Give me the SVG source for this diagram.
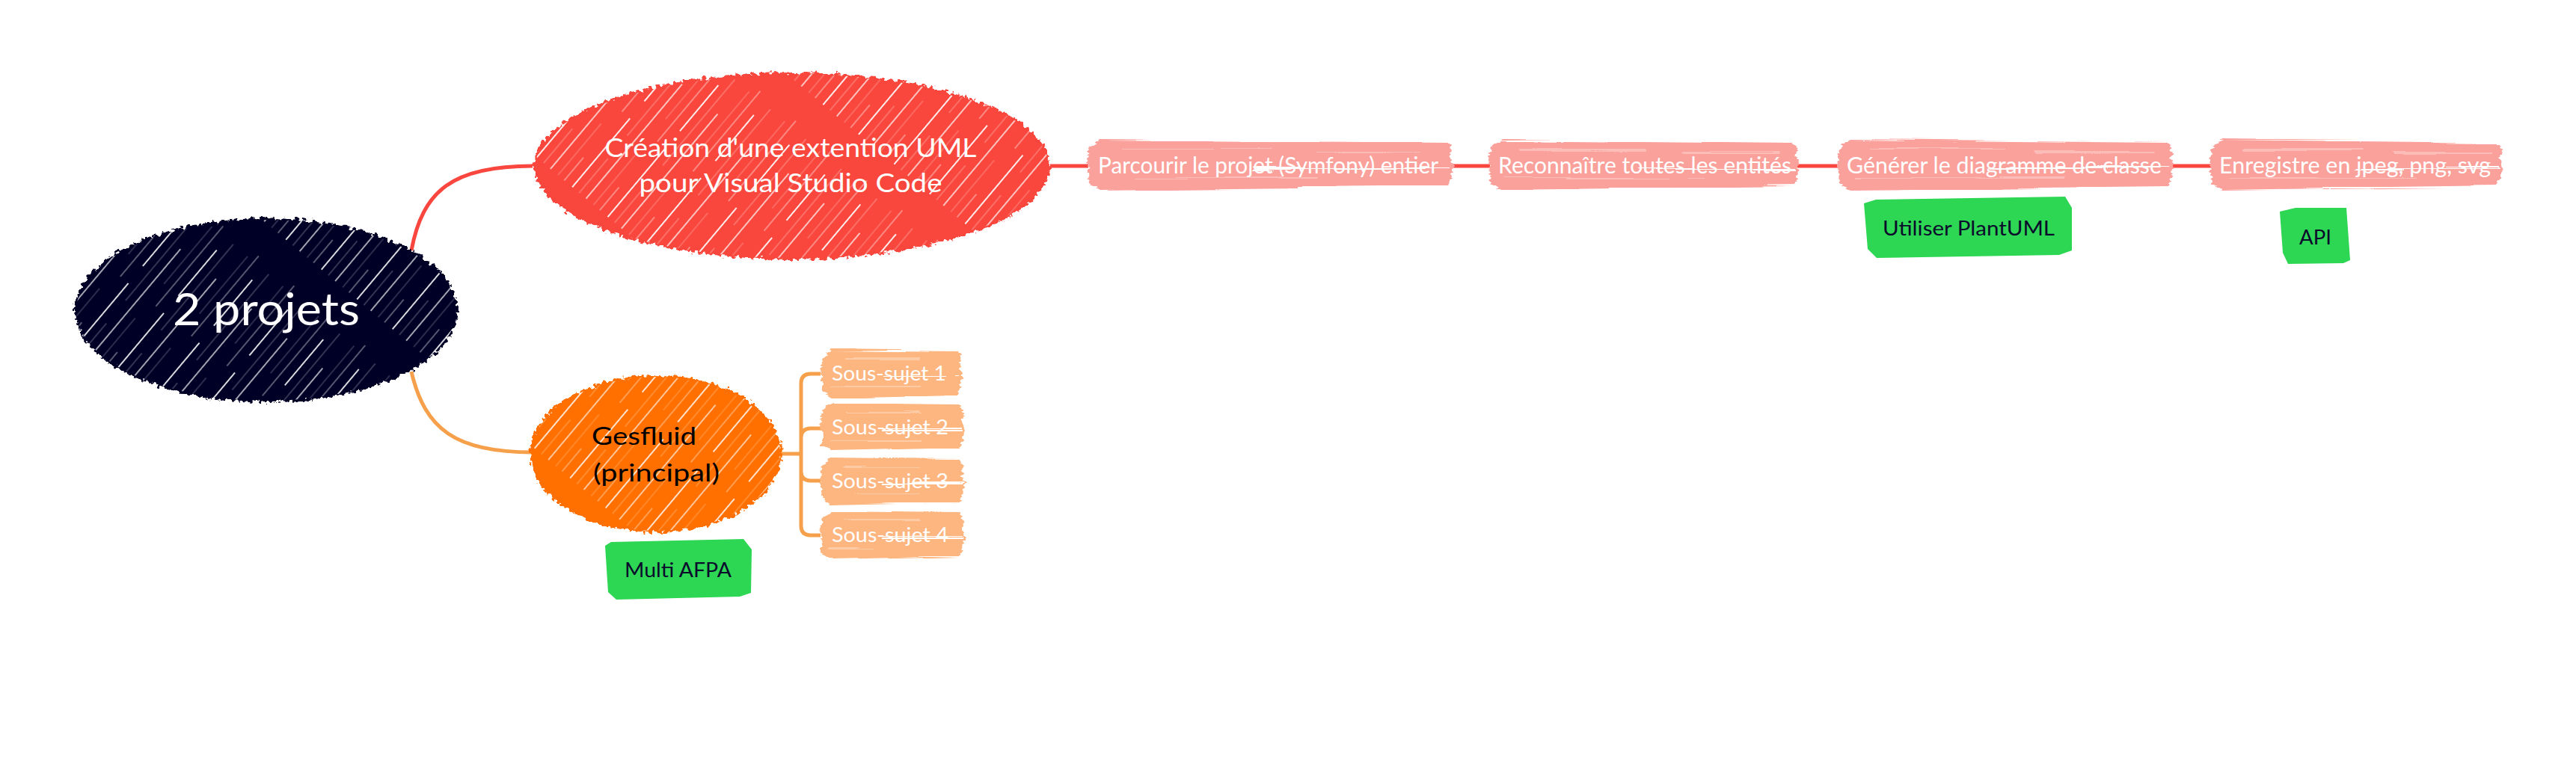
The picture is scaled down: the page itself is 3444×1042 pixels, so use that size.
<svg xmlns="http://www.w3.org/2000/svg" width="3444" height="1042" viewBox="0 0 3444 1042">
<defs>
<style>
.t{font-family:Lato,"Open Sans","Liberation Sans",sans-serif}
.w{fill:#ffffff}
.d{fill:#0b0b2c}
.k{fill:#000000}
.red{fill:#f9463e}
.navy{fill:#020228}
.orange{fill:#ff6f00}
.lred{fill:#fba19b}
.lor{fill:#fdb680}
.green{fill:#2dd653}
.cr{fill:none;stroke:#f9463e;stroke-width:5}
.co{fill:none;stroke:#f6a04c;stroke-width:5}
.tex{stroke:#ffffff;fill:none}
.h{stroke:#ffffff;fill:none}
</style>
<pattern id="hatch" patternUnits="userSpaceOnUse" width="300" height="62" patternTransform="rotate(-50)">
<line class="h" x1="0" y1="3" x2="300" y2="3" stroke-width="2.2" stroke-dasharray="120 30 80 70"/>
<line class="h" x1="0" y1="15" x2="300" y2="15" stroke-width=".8" opacity=".6" stroke-dasharray="60 40 150 50"/>
<line class="h" x1="0" y1="27" x2="300" y2="27" stroke-width="1.6" stroke-dasharray="200 100"/>
<line class="h" x1="0" y1="40" x2="300" y2="40" stroke-width=".8" opacity=".5" stroke-dasharray="90 60 100 50"/>
<line class="h" x1="0" y1="51" x2="300" y2="51" stroke-width="1.2" opacity=".8" stroke-dasharray="40 80 140 40"/>
</pattern>
<clipPath id="cRoot"><ellipse cx="356" cy="415" rx="254" ry="121"/></clipPath>
<clipPath id="cUml"><ellipse cx="1059" cy="222" rx="343" ry="123"/></clipPath>
<clipPath id="cGes"><ellipse cx="877" cy="607" rx="166" ry="103"/></clipPath>
<filter id="rough" x="-10%" y="-10%" width="120%" height="120%">
<feTurbulence type="fractalNoise" baseFrequency="0.18" numOctaves="2" seed="3" result="n"/>
<feDisplacementMap in="SourceGraphic" in2="n" scale="12" xChannelSelector="R" yChannelSelector="G"/>
</filter>
<filter id="brush" x="-5%" y="-20%" width="110%" height="140%">
<feTurbulence type="fractalNoise" baseFrequency="0.004 0.25" numOctaves="2" seed="7" result="n"/>
<feDisplacementMap in="SourceGraphic" in2="n" scale="10" xChannelSelector="R" yChannelSelector="G"/>
</filter>
</defs>
<rect width="3444" height="1042" fill="#ffffff"/>

<g id="connectors">
<path class="cr" d="M550 335 C565 255 605 222 712 222"/>
<path class="co" d="M550 497 C568 575 610 605 712 605"/>
<path class="cr" d="M1404 222 H1455 M1941 222 H1992 M2403 222 H2458 M2904 222 H2956"/>
<path class="co" d="M1045 607 H1071 M1097 500 H1084 Q1071 500 1071 513 V703 Q1071 716 1084 716 H1097 M1097 573 H1084 Q1071 573 1071 586 M1097 643 H1084 Q1071 643 1071 630"/>
</g>

<g id="root">
<ellipse class="navy" cx="356" cy="415" rx="256" ry="123" filter="url(#rough)"/>
<rect x="90" y="280" width="540" height="270" fill="url(#hatch)" clip-path="url(#cRoot)" opacity=".85"/>
<text class="t w" x="356" y="435" font-size="60" text-anchor="middle" textLength="250" lengthAdjust="spacingAndGlyphs">2 projets</text>
</g>

<g id="uml">
<ellipse class="red" cx="1059" cy="222" rx="345" ry="125" filter="url(#rough)"/>
<rect x="700" y="90" width="720" height="270" fill="url(#hatch)" clip-path="url(#cUml)" opacity=".9"/>
<text class="t w" x="1057" y="210" font-size="35" text-anchor="middle" textLength="497" lengthAdjust="spacingAndGlyphs">Création d'une extention UML</text>
<text class="t w" x="1057" y="257" font-size="35" text-anchor="middle" textLength="405" lengthAdjust="spacingAndGlyphs">pour Visual Studio Code</text>
</g>

<g id="gesfluid">
<ellipse class="orange" cx="877" cy="607" rx="168" ry="105" filter="url(#rough)"/>
<rect x="700" y="495" width="360" height="230" fill="url(#hatch)" clip-path="url(#cGes)" opacity=".8"/>
<text class="t k" x="791" y="595" font-size="33" textLength="140" lengthAdjust="spacingAndGlyphs">Gesfluid</text>
<text class="t k" x="793" y="644" font-size="33" textLength="169" lengthAdjust="spacingAndGlyphs">(principal)</text>
</g>

<g id="parcourir">
<g filter="url(#brush)">
<path class="lred" d="M1471 187 L1935 191 L1941 200 L1939 212 L1943 222 L1940 238 L1936 249 L1470 254 L1456 246 L1455 230 L1453 214 L1457 196 Z"/>
<path class="tex" d="M1500 200 H1700 M1760 204 H1900 M1480 238 H1760" stroke-width="1.2" opacity=".6"/>
<path class="tex" d="M1675 225 H1938" stroke-width="2"/>
</g>
<text class="t w" x="1468" y="232" font-size="30" textLength="455" lengthAdjust="spacingAndGlyphs">Parcourir le projet (Symfony) entier</text>
</g>

<g id="reconnaitre">
<g filter="url(#brush)">
<path class="lred" d="M2008 187 L2397 191 L2403 200 L2401 212 L2405 222 L2402 238 L2398 249 L2007 254 L1993 246 L1992 230 L1990 214 L1994 196 Z"/>
<path class="tex" d="M2030 200 H2200 M2250 204 H2380 M2010 238 H2280" stroke-width="1.2" opacity=".6"/>
<path class="tex" d="M2190 225 H2400" stroke-width="2"/>
</g>
<text class="t w" x="2003" y="232" font-size="30" textLength="392" lengthAdjust="spacingAndGlyphs">Reconnaître toutes les entités</text>
</g>

<g id="generer">
<g filter="url(#brush)">
<path class="lred" d="M2474 187 L2898 191 L2904 200 L2902 212 L2906 222 L2903 238 L2899 249 L2473 254 L2459 246 L2458 230 L2456 214 L2460 196 Z"/>
<path class="tex" d="M2500 200 H2680 M2720 204 H2880 M2480 238 H2760" stroke-width="1.2" opacity=".6"/>
<path class="tex" d="M2660 225 H2900" stroke-width="2"/>
</g>
<text class="t w" x="2469" y="232" font-size="30" textLength="421" lengthAdjust="spacingAndGlyphs">Générer le diagramme de classe</text>
</g>

<g id="enregistre">
<g filter="url(#brush)">
<path class="lred" d="M2972 187 L3338 191 L3344 200 L3342 212 L3346 222 L3343 238 L3339 249 L2971 254 L2957 246 L2956 230 L2954 214 L2958 196 Z"/>
<path class="tex" d="M3000 200 H3160 M3200 204 H3330 M2980 238 H3230" stroke-width="1.2" opacity=".6"/>
<path class="tex" d="M3150 225 H3342" stroke-width="2"/>
</g>
<text class="t w" x="2967" y="232" font-size="30" textLength="363" lengthAdjust="spacingAndGlyphs">Enregistre en jpeg, png, svg</text>
</g>

<g id="plantuml">
<path class="green" d="M2492 272 L2508 267 L2761 263 L2770 278 L2770 335 L2753 341 L2509 345 L2497 333 Z"/>
<text class="t d" x="2517" y="315" font-size="27" textLength="230" lengthAdjust="spacingAndGlyphs">Utiliser PlantUML</text>
</g>

<g id="api">
<path class="green" d="M3048 283 L3069 278 L3137 278 L3142 348 L3133 352 L3059 353 L3052 338 Z"/>
<text class="t d" x="3074" y="327" font-size="27" textLength="43" lengthAdjust="spacingAndGlyphs">API</text>
</g>

<g id="multiafpa">
<path class="green" d="M809 730 L817 725 L994 721 L1005 735 L1004 793 L989 798 L824 802 L813 792 Z"/>
<text class="t d" x="835" y="772" font-size="27" textLength="143" lengthAdjust="spacingAndGlyphs">Multi AFPA</text>
</g>

<g id="sous1">
<g filter="url(#brush)">
<path class="lor" d="M1112 468 L1281 470 L1285 480 L1283 492 L1287 502 L1284 516 L1280 528 L1111 532 L1099 524 L1099 510 L1097 494 L1100 477 Z"/>
<path class="tex" d="M1130 480 H1230 M1110 517 H1230" stroke-width="1.2" opacity=".6"/>
<path class="tex" d="M1180 503 H1284" stroke-width="2"/>
</g>
<text class="t w" x="1112" y="509" font-size="27" textLength="153" lengthAdjust="spacingAndGlyphs">Sous-sujet 1</text>
</g>

<g id="sous2">
<g filter="url(#brush)">
<path class="lor" d="M1112 540 L1283 542 L1288 552 L1286 564 L1290 574 L1287 588 L1283 600 L1111 604 L1099 596 L1099 582 L1097 566 L1100 549 Z"/>
<path class="tex" d="M1130 552 H1230 M1110 589 H1230" stroke-width="1.2" opacity=".6"/>
<path class="tex" d="M1180 575 H1287" stroke-width="2"/>
</g>
<text class="t w" x="1112" y="581" font-size="27" textLength="156" lengthAdjust="spacingAndGlyphs">Sous-sujet 2</text>
</g>

<g id="sous3">
<g filter="url(#brush)">
<path class="lor" d="M1112 612 L1283 614 L1288 624 L1286 636 L1290 646 L1287 660 L1283 672 L1111 676 L1099 668 L1099 654 L1097 638 L1100 621 Z"/>
<path class="tex" d="M1130 624 H1230 M1110 661 H1230" stroke-width="1.2" opacity=".6"/>
<path class="tex" d="M1180 647 H1287" stroke-width="2"/>
</g>
<text class="t w" x="1112" y="653" font-size="27" textLength="156" lengthAdjust="spacingAndGlyphs">Sous-sujet 3</text>
</g>

<g id="sous4">
<g filter="url(#brush)">
<path class="lor" d="M1112 684 L1283 686 L1288 696 L1286 708 L1290 718 L1287 732 L1283 744 L1111 748 L1099 740 L1099 726 L1097 710 L1100 693 Z"/>
<path class="tex" d="M1130 696 H1230 M1110 733 H1230" stroke-width="1.2" opacity=".6"/>
<path class="tex" d="M1180 719 H1287" stroke-width="2"/>
</g>
<text class="t w" x="1112" y="725" font-size="27" textLength="156" lengthAdjust="spacingAndGlyphs">Sous-sujet 4</text>
</g>
</svg>
